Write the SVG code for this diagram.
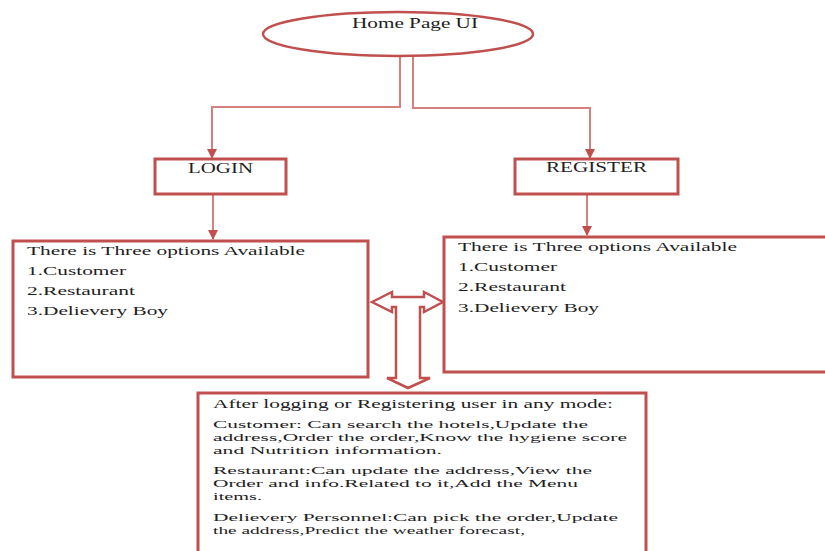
<svg xmlns="http://www.w3.org/2000/svg" width="825" height="551" viewBox="0 0 825 551">
<style>
.box{fill:#fff;stroke:#c0504d;stroke-width:3}
.conn{fill:none;stroke:#d4807e;stroke-width:2}
.t{font-family:"Liberation Serif","Times New Roman",serif;fill:#1e1e1e}
.h{font-size:14px}
.b{font-size:13.5px}
.s{font-size:11px}
</style>
<defs>
<marker id="ah" viewBox="0 0 10 10" refX="9" refY="5" markerWidth="5" markerHeight="5" orient="auto" markerUnits="strokeWidth">
<path d="M0,0 L10,5 L0,10 z" fill="#c0504d"/>
</marker>
</defs>
<rect width="825" height="551" fill="#fff"/>
<g id="connectors">
<path class="conn" d="M400,56 V107 H212 V158" marker-end="url(#ah)"/>
<path class="conn" d="M413,56 V108 H590 V158" marker-end="url(#ah)"/>
<path class="conn" d="M213,195 V239" marker-end="url(#ah)"/>
<path class="conn" d="M587,195 V235" marker-end="url(#ah)"/>
<polygon fill="#fff" stroke="#c0504d" stroke-width="2.5" stroke-linejoin="miter" points="372,302 392,292 392,297 424,297 424,292 443,302 424,312 424,307 420,307 420,378 430,378 408,388 387,378 396,378 396,307 392,307 392,312"/>
</g>
<g id="home">
<ellipse cx="398" cy="34" rx="135" ry="22" fill="#fff" stroke="#c0504d" stroke-width="2.5"/>
<text class="t h" x="352" y="28" textLength="126" lengthAdjust="spacingAndGlyphs">Home Page UI</text>
</g>
<g id="login">
<rect class="box" x="155" y="159" width="131" height="35"/>
<text class="t h" x="188" y="173" textLength="65" lengthAdjust="spacingAndGlyphs">LOGIN</text>
</g>
<g id="register">
<rect class="box" x="515" y="159" width="163" height="35"/>
<text class="t h" x="546" y="172" textLength="101" lengthAdjust="spacingAndGlyphs">REGISTER</text>
</g>
<g id="login-options">
<rect class="box" x="13" y="241" width="355" height="136"/>
<text class="t b" x="27" y="255" textLength="278" lengthAdjust="spacingAndGlyphs">There is Three options Available</text>
<text class="t b" x="27" y="275" textLength="99" lengthAdjust="spacingAndGlyphs">1.Customer</text>
<text class="t b" x="27" y="295" textLength="108" lengthAdjust="spacingAndGlyphs">2.Restaurant</text>
<text class="t b" x="27" y="315" textLength="141" lengthAdjust="spacingAndGlyphs">3.Delievery Boy</text>
</g>
<g id="register-options">
<rect class="box" x="444" y="237" width="390" height="135"/>
<text class="t b" x="458" y="251" textLength="279" lengthAdjust="spacingAndGlyphs">There is Three options Available</text>
<text class="t b" x="458" y="271" textLength="99" lengthAdjust="spacingAndGlyphs">1.Customer</text>
<text class="t b" x="458" y="291" textLength="108" lengthAdjust="spacingAndGlyphs">2.Restaurant</text>
<text class="t b" x="458" y="312" textLength="141" lengthAdjust="spacingAndGlyphs">3.Delievery Boy</text>
</g>
<g id="after-login">
<rect class="box" x="198" y="393" width="448" height="170"/>
<text class="t b" x="213" y="408" textLength="400" lengthAdjust="spacingAndGlyphs">After logging or Registering user in any mode:</text>
<text class="t s" x="213" y="428" textLength="375" lengthAdjust="spacingAndGlyphs">Customer: Can search the hotels,Update the</text>
<text class="t s" x="213" y="441" textLength="414" lengthAdjust="spacingAndGlyphs">address,Order the order,Know the hygiene score</text>
<text class="t s" x="213" y="454" textLength="229" lengthAdjust="spacingAndGlyphs">and Nutrition information.</text>
<text class="t s" x="213" y="474" textLength="379" lengthAdjust="spacingAndGlyphs">Restaurant:Can update the address,View the</text>
<text class="t s" x="213" y="487" textLength="365" lengthAdjust="spacingAndGlyphs">Order and info.Related to it,Add the Menu</text>
<text class="t s" x="213" y="500" textLength="49" lengthAdjust="spacingAndGlyphs">items.</text>
<text class="t s" x="213" y="521" textLength="405" lengthAdjust="spacingAndGlyphs">Delievery Personnel:Can pick the order,Update</text>
<text class="t s" x="213" y="534" textLength="312" lengthAdjust="spacingAndGlyphs">the address,Predict the weather forecast,</text>
</g>
</svg>
